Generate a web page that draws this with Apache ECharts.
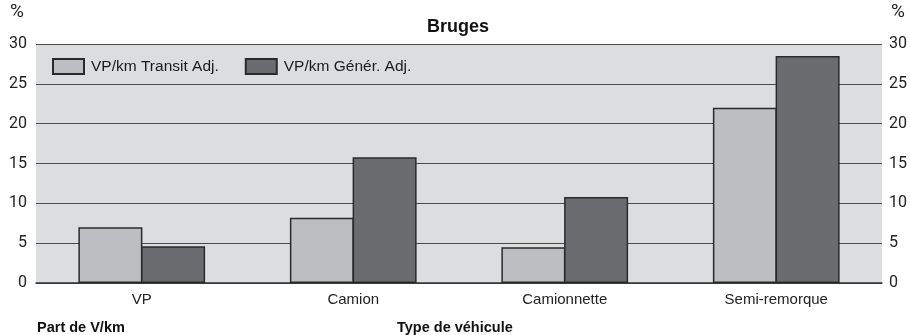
<!DOCTYPE html>
<html>
<head>
<meta charset="utf-8">
<script src="https://cdn.jsdelivr.net/npm/echarts@6/dist/echarts.min.js"></script>
<style>
  html, body { margin: 0; padding: 0; background: #ffffff; }
  #chart { width: 910px; height: 335px; }
</style>
</head>
<body>
<div id="chart"></div>
<script>
// Vehicle types on the category axis
const categories = ['VP', 'Camion', 'Camionnette', 'Semi-remorque'];
// Share of vehicle-km (%), adjusted transit vs. adjusted generated
const transitAdj = [7.0, 8.2, 4.5, 22.0];
const generAdj = [4.6, 15.8, 10.8, 28.5];
// Value axis scale
const yMin = 0;
const yMax = 30;
const yStep = 5;

const FONT = '"Liberation Sans", Arial, sans-serif';
const TICK_FONT = 'Roboto, "Liberation Sans", sans-serif';

const chart = echarts.init(document.getElementById('chart'), null, { renderer: 'canvas' });

const tickLabel = {
  fontFamily: TICK_FONT,
  fontSize: 16,
  color: '#222222'
};

chart.setOption({
  animation: false,
  backgroundColor: '#ffffff',
  title: {
    text: 'Bruges',
    left: 427,
    top: 18,
    padding: 0,
    textStyle: { fontFamily: FONT, fontSize: 18, fontWeight: 'bold', color: '#111111' }
  },
  legend: {
    left: 52,
    top: 58,
    padding: 0,
    icon: 'rect',
    itemWidth: 31,
    itemHeight: 15,
    itemGap: 26,
    textStyle: { fontFamily: FONT, fontSize: 15.5, color: '#1a1a1a', padding: [0, 0, 0, 2] },
    data: ['VP/km Transit Adj.', 'VP/km Génér. Adj.']
  },
  grid: {
    left: 36,
    right: 28,
    top: 44,
    bottom: 52,
    show: true,
    backgroundColor: '#dcdddf',
    borderWidth: 0
  },
  xAxis: {
    type: 'category',
    data: categories,
    axisLine: { show: true, lineStyle: { color: '#333333', width: 1.5 } },
    axisTick: { show: false },
    axisLabel: { margin: 9, fontFamily: FONT, fontSize: 15, color: '#222222' }
  },
  yAxis: [
    {
      type: 'value',
      min: yMin,
      max: yMax,
      interval: yStep,
      position: 'left',
      axisLine: { show: false },
      axisTick: { show: false },
      axisLabel: Object.assign({ margin: 9 }, tickLabel),
      splitLine: { show: true, lineStyle: { color: '#4a4a4a', width: 1.2 } }
    },
    {
      type: 'value',
      min: yMin,
      max: yMax,
      interval: yStep,
      position: 'right',
      axisLine: { show: false },
      axisTick: { show: false },
      axisLabel: Object.assign({ margin: 7 }, tickLabel),
      splitLine: { show: false }
    }
  ],
  series: [
    {
      name: 'VP/km Transit Adj.',
      type: 'bar',
      data: transitAdj,
      barWidth: 64,
      barGap: '-2%',
      itemStyle: { color: '#bdbec2', borderColor: '#2a2a2a', borderWidth: 1.5 }
    },
    {
      name: 'VP/km Génér. Adj.',
      type: 'bar',
      data: generAdj,
      barWidth: 64,
      barGap: '-2%',
      itemStyle: { color: '#6b6c70', borderColor: '#2a2a2a', borderWidth: 1.5 }
    }
  ],
  graphic: [
    {
      type: 'text',
      left: 10,
      top: 3,
      style: { text: '%', fontFamily: TICK_FONT, fontSize: 19, fill: '#222222' }
    },
    {
      type: 'text',
      left: 891,
      top: 3,
      style: { text: '%', fontFamily: TICK_FONT, fontSize: 19, fill: '#222222' }
    },
    {
      type: 'text',
      left: 37,
      top: 320,
      style: { text: 'Part de V/km', fontFamily: FONT, fontSize: 14.5, fontWeight: 'bold', fill: '#111111' }
    },
    {
      type: 'text',
      left: 397,
      top: 320,
      style: { text: 'Type de véhicule', fontFamily: FONT, fontSize: 14.5, fontWeight: 'bold', fill: '#111111' }
    }
  ]
});
</script>
</body>
</html>
